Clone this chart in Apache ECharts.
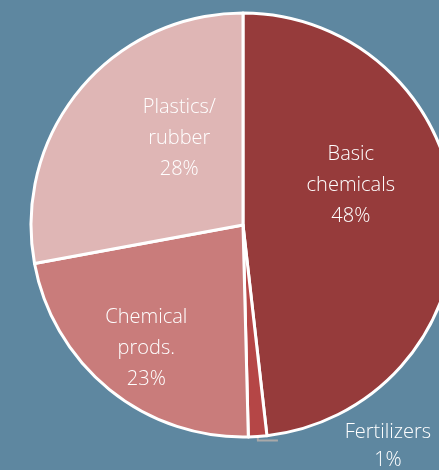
<!DOCTYPE html>
<html>
<head>
<meta charset="utf-8">
<script src="https://cdn.jsdelivr.net/npm/echarts@6/dist/echarts.min.js"></script>
<style>
  html, body { margin: 0; padding: 0; background: #5e87a0; }
  #chart { width: 439px; height: 470px; }
</style>
</head>
<body>
<div id="chart"></div>
<script>
  // sector names and shares (%)
  var categories = ['Basic\nchemicals', 'Fertilizers', 'Chemical\nprods.', 'Plastics/\nrubber'];
  var shares = [48.2, 1.4, 22.5, 27.9];

  var colors = ['#963b3b', '#b54646', '#c97c7b', '#dfb6b5'];
  // nudge the inside labels where the original put them
  var labelOffsets = [[-1, -34], [0, 0], [-28, 39], [20, -17]];

  var myChart = echarts.init(document.getElementById('chart'));
  var data = categories.map(function (name, i) {
    var item = {
      name: name,
      value: shares[i],
      itemStyle: { color: colors[i] },
      label: { offset: labelOffsets[i] }
    };
    if (name === 'Fertilizers') {
      // small slice: label sits outside, both lines centred
      item.label = {
        position: 'outside',
        offset: [53, 6],
        formatter: function (p) {
          return '{c|' + p.name + '}\n{c|' + Math.round(p.value) + '%}';
        },
        rich: {
          c: {
            width: 104,
            align: 'center',
            color: '#ffffff',
            fontFamily: 'Open Sans',
            fontWeight: 300,
            fontSize: 20,
            lineHeight: 28
          }
        }
      };
      item.labelLine = {
        show: true,
        length: 4,
        length2: 20,
        lineStyle: { color: '#a9a9a9', width: 2 }
      };
    }
    return item;
  });

  var option = {
    backgroundColor: '#5e87a0',
    animation: false,
    series: [{
      type: 'pie',
      center: [243, 225],
      radius: 212,
      startAngle: 90,
      clockwise: true,
      avoidLabelOverlap: false,
      itemStyle: {
        borderColor: '#ffffff',
        borderWidth: 3
      },
      label: {
        show: true,
        position: 'inside',
        color: '#ffffff',
        fontFamily: 'Open Sans',
        fontWeight: 300,
        fontSize: 20,
        lineHeight: 31,
        align: 'center',
        formatter: function (p) {
          return p.name + '\n' + Math.round(p.value) + '%';
        }
      },
      labelLine: { show: false },
      data: data
    }]
  };
  myChart.setOption(option);
</script>
</body>
</html>
